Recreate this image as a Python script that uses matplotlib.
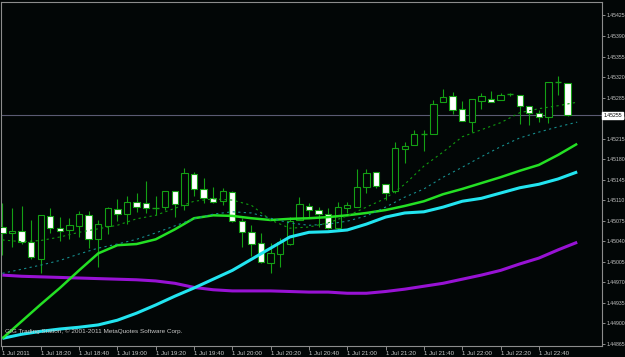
import matplotlib
matplotlib.use('Agg')
import matplotlib.pyplot as plt

# 5-minute bars, 1 Jul 2011 18:00 .. 22:55
opens = [1.45064, 1.45054, 1.45057, 1.45038, 1.45009, 1.45083, 1.45062, 1.45059, 1.45066, 1.45084,
         1.45043, 1.45066, 1.45095, 1.45086, 1.45107, 1.45105, 1.45096, 1.45098, 1.45125, 1.45101,
         1.45154, 1.45129, 1.45113, 1.45108, 1.45124, 1.45074, 1.45055, 1.45037, 1.45002, 1.45018,
         1.45035, 1.45076, 1.45100, 1.45093, 1.45086, 1.45062, 1.45096, 1.45098, 1.45132, 1.45158,
         1.45137, 1.45125, 1.45197, 1.45204, 1.45223, 1.45223, 1.45277, 1.45288, 1.45266, 1.45243,
         1.45279, 1.45283, 1.45281, 1.45291, 1.45289, 1.45271, 1.45259, 1.45252, 1.45312, 1.45310]
highs = [1.45105, 1.45096, 1.45100, 1.45076, 1.45084, 1.45096, 1.45081, 1.45079, 1.45091, 1.45091,
         1.45076, 1.45098, 1.45112, 1.45117, 1.45122, 1.45142, 1.45117, 1.45125, 1.45125, 1.45165,
         1.45158, 1.45148, 1.45132, 1.45131, 1.45125, 1.45079, 1.45067, 1.45054, 1.45037, 1.45045,
         1.45081, 1.45115, 1.45105, 1.45098, 1.45096, 1.45107, 1.45107, 1.45163, 1.45163, 1.45158,
         1.45137, 1.45209, 1.45209, 1.45230, 1.45230, 1.45281, 1.45300, 1.45295, 1.45279, 1.45283,
         1.45293, 1.45296, 1.45293, 1.45293, 1.45289, 1.45271, 1.45264, 1.45312, 1.45322, 1.45310]
lows = [1.45016, 1.45030, 1.45035, 1.45009, 1.44985, 1.45054, 1.45040, 1.45043, 1.45047, 1.45028,
        1.44996, 1.45052, 1.45074, 1.45069, 1.45090, 1.45088, 1.45084, 1.45093, 1.45081, 1.45093,
        1.45117, 1.45105, 1.45105, 1.45101, 1.45072, 1.45030, 1.45014, 1.45002, 1.44985, 1.44996,
        1.45033, 1.45076, 1.45079, 1.45064, 1.45060, 1.45059, 1.45088, 1.45098, 1.45122, 1.45131,
        1.45110, 1.45122, 1.45173, 1.45204, 1.45194, 1.45223, 1.45277, 1.45257, 1.45245, 1.45226,
        1.45266, 1.45277, 1.45281, 1.45288, 1.45240, 1.45238, 1.45243, 1.45242, 1.45289, 1.45254]
closes = [1.45054, 1.45057, 1.45038, 1.45013, 1.45084, 1.45062, 1.45057, 1.45067, 1.45086, 1.45043,
          1.45069, 1.45096, 1.45086, 1.45107, 1.45098, 1.45096, 1.45096, 1.45125, 1.45103, 1.45156,
          1.45129, 1.45113, 1.45107, 1.45125, 1.45074, 1.45055, 1.45035, 1.45004, 1.45019, 1.45038,
          1.45074, 1.45103, 1.45093, 1.45086, 1.45062, 1.45098, 1.45101, 1.45132, 1.45156, 1.45134,
          1.45122, 1.45199, 1.45202, 1.45223, 1.45223, 1.45274, 1.45286, 1.45264, 1.45245, 1.45283,
          1.45288, 1.45277, 1.45289, 1.45291, 1.45271, 1.45259, 1.45252, 1.45312, 1.45312, 1.45255]

# moving averages, read every second bar (shifted one bar right)
ma_bars = list(range(0, 61, 2))
ma_fast = [1.45042, 1.45039, 1.45041, 1.45047, 1.45055, 1.45061, 1.45067, 1.45078, 1.45084, 1.45096,
           1.45108, 1.45112, 1.45110, 1.45101, 1.45076, 1.45062, 1.45064, 1.45071, 1.45083, 1.45098,
           1.45113, 1.45137, 1.45168, 1.45192, 1.45218, 1.45230, 1.45242, 1.45259, 1.45266, 1.45271,
           1.45277]
ma_slow_dot = [1.44985, 1.44992, 1.44999, 1.45007, 1.45018, 1.45028, 1.45035, 1.45043, 1.45054, 1.45066,
               1.45078, 1.45086, 1.45090, 1.45088, 1.45079, 1.45071, 1.45067, 1.45069, 1.45074, 1.45083,
               1.45098, 1.45115, 1.45129, 1.45149, 1.45166, 1.45184, 1.45201, 1.45216, 1.45226, 1.45235,
               1.45243]
ma_green = [1.44874, 1.44903, 1.44932, 1.44960, 1.44990, 1.45019, 1.45033, 1.45035, 1.45043, 1.45060,
            1.45079, 1.45084, 1.45083, 1.45079, 1.45076, 1.45078, 1.45079, 1.45081, 1.45084, 1.45088,
            1.45093, 1.45100, 1.45108, 1.45120, 1.45129, 1.45139, 1.45149, 1.45160, 1.45170, 1.45187,
            1.45206]
ma_cyan = [1.44874, 1.44881, 1.44886, 1.44890, 1.44893, 1.44897, 1.44905, 1.44917, 1.44931, 1.44946,
           1.44960, 1.44975, 1.44990, 1.45009, 1.45028, 1.45047, 1.45055, 1.45056, 1.45059, 1.45069,
           1.45081, 1.45088, 1.45090, 1.45098, 1.45108, 1.45113, 1.45122, 1.45131, 1.45137, 1.45146,
           1.45158]
ma_purple = [1.44982, 1.44980, 1.44979, 1.44978, 1.44977, 1.44976, 1.44975, 1.44974, 1.44972, 1.44968,
             1.44961, 1.44957, 1.44955, 1.44955, 1.44955, 1.44954, 1.44953, 1.44953, 1.44951, 1.44951,
             1.44954, 1.44958, 1.44963, 1.44968, 1.44975, 1.44982, 1.44990, 1.45001, 1.45011, 1.45025,
             1.45038]

tick_bars = [0, 4, 8, 12, 16, 20, 24, 28, 32, 36, 40, 44, 48, 52, 56]
tick_labels = ['1 Jul 2011', '1 Jul 18:20', '1 Jul 18:40', '1 Jul 19:00', '1 Jul 19:20',
               '1 Jul 19:40', '1 Jul 20:00', '1 Jul 20:20', '1 Jul 20:40', '1 Jul 21:00',
               '1 Jul 21:20', '1 Jul 21:40', '1 Jul 22:00', '1 Jul 22:20', '1 Jul 22:40']
price_ticks = [1.44865, 1.44900, 1.44935, 1.44970, 1.45005, 1.45040, 1.45075, 1.45110, 1.45145,
               1.45180, 1.45215, 1.45250, 1.45285, 1.45320, 1.45355, 1.45390, 1.45425]
bid = 1.45255

BG = '#020606'
FG = '#c8c8c8'
FRAME = '#8c8c8c'
CANDLE = '#14a014'

plt.rcParams['font.family'] = ['Liberation Sans', 'DejaVu Sans']

fig = plt.figure(figsize=(6.25, 3.57), dpi=100, facecolor=BG)
ax = fig.add_axes([1 / 625, 11 / 357, 601 / 625, 344 / 357], facecolor=BG)
ax.set_xlim(-0.146, 62.59)
ax.set_ylim(1.44861, 1.45448)

# bid line
ax.axhline(bid, color='#5a5a72', lw=0.8, zorder=1)

x = list(range(len(opens)))
ax.vlines(x, lows, highs, color=CANDLE, lw=0.8, zorder=2)
for i in x:
    o, c = opens[i], closes[i]
    face = 'white' if c < o else BG
    h = abs(c - o)
    if h < 1e-6:
        ax.hlines(o, i - 0.34, i + 0.34, color=CANDLE, lw=1.0, zorder=3)
    else:
        ax.bar(i, h, bottom=min(o, c), width=0.66, color=face,
               edgecolor=CANDLE, linewidth=0.8, zorder=3)

ax.plot(ma_bars, ma_purple, color='#9812d4', lw=2.2, zorder=4, solid_capstyle='butt')
ax.plot(ma_bars, ma_cyan, color='#22e4f0', lw=2.2, zorder=4, solid_capstyle='butt')
ax.plot(ma_bars, ma_green, color='#24e024', lw=1.8, zorder=4, solid_capstyle='butt')
ax.plot(ma_bars, ma_slow_dot, color='#168c8c', lw=0.8, ls=(0, (2, 3)), zorder=5)
ax.plot(ma_bars, ma_fast, color='#109c10', lw=0.8, ls=(0, (2, 3)), zorder=5)

for s in ax.spines.values():
    s.set_color(FRAME)
    s.set_linewidth(0.8)

ax.yaxis.tick_right()
ax.set_yticks(price_ticks)
ax.set_yticklabels([f'{p:.5f}' for p in price_ticks])
ax.tick_params(axis='y', colors=FRAME, labelcolor=FG, labelsize=3.7, length=2.5, width=0.7, pad=0.8)

ax.set_xticks(tick_bars)
ax.set_xticklabels(tick_labels, ha='left')
ax.tick_params(axis='x', colors=FRAME, labelcolor=FG, labelsize=4.4, length=3, width=0.7, pad=0.8)

ax.text(1.002, bid, f'{bid:.5f}', transform=ax.get_yaxis_transform(), fontsize=3.7,
        color='black', va='center', ha='left', zorder=10, clip_on=False,
        bbox=dict(boxstyle='square,pad=0.2', fc='white', ec='white'))

fig.text(5 / 625, 1 - 331 / 357, 'GIG Trading Station, \u00a9 2001-2011 MetaQuotes Software Corp.',
         fontsize=4.6, color=FG, va='center', ha='left')

fig.savefig('out.png', dpi=100, facecolor=BG)
